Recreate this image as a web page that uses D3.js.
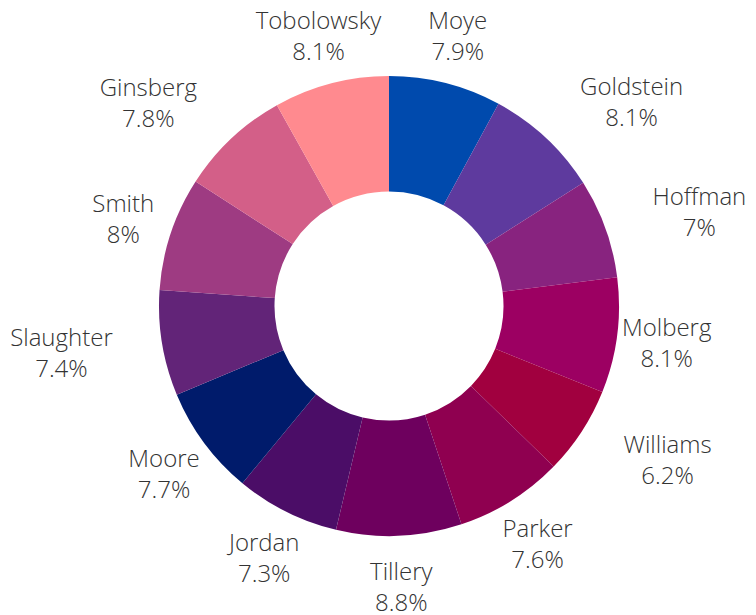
<!DOCTYPE html>
<html>
 <head>
 <title>Donut | D3</title>
    <script src="https://d3js.org/d3.v7.min.js" charset="utf-8"></script>
 <style>
body {
 margin: 0;
 background: white;
 font-family: "Open Sans", sans-serif;
}
.lbl {
 font-size: 24px;
 font-weight: 300;
 fill: #333;
}
</style>
  </head>
  <body>
  <script>
    // data
    var names = ["Moye", "Goldstein", "Hoffman", "Molberg", "Williams", "Parker", "Tillery",
                 "Jordan", "Moore", "Slaughter", "Smith", "Ginsberg", "Tobolowsky"];
    var shares = [7.9, 8.1, 7, 8.1, 6.2, 7.6, 8.8, 7.3, 7.7, 7.4, 8, 7.8, 8.1];
    var colors = ["#004aad", "#5e3a9e", "#88237f", "#9c0062", "#a1003f", "#8f0050", "#6e005e",
                  "#4b0d67", "#001b6b", "#622478", "#9e3b82", "#d35f88", "#ff8a8f"];

    var width = 756;
    var height = 615;
    var cx = 389, cy = 306;
    var outerR = 230, innerR = 114.5, labelR = 280;

    var svg = d3.select( "body" )
     .append( "svg" )
     .attr( "width", width )
     .attr( "height", height );

    var g = svg.append( "g" )
     .attr( "transform", "translate(" + cx + "," + cy + ")" );

    var pie = d3.pie()
     .value( function(d, i) { return shares[i]; } )
     .sort( null );

    var arc = d3.arc()
     .innerRadius( innerR )
     .outerRadius( outerR );

    var labelArc = d3.arc()
     .innerRadius( labelR )
     .outerRadius( labelR );

    var slices = pie( names );

    g.selectAll( "path" )
     .data( slices )
     .enter()
     .append( "path" )
     .attr( "fill", function(d, i) { return colors[i]; } )
     .attr( "d", arc );

    var labels = g.selectAll( "text" )
     .data( slices )
     .enter()
     .append( "text" )
     .attr( "class", "lbl" )
     .attr( "text-anchor", "middle" );

    labels.append( "tspan" )
     .attr( "x", 0 )
     .attr( "dy", 0 )
     .text( function(d) { return d.data; } );
    labels.append( "tspan" )
     .attr( "x", 0 )
     .attr( "dy", 31 )
     .text( function(d, i) { return shares[i] + "%"; } );

    // centre each label block on its point, push it sideways if it hits the ring
    labels.each( function(d) {
      var el = d3.select( this );
      var p = labelArc.centroid( d );
      var b = this.getBBox();
      var x = p[0], y = p[1] - (b.y + b.height / 2);
      var hw = b.width / 2, hh = b.height * 0.47;
      var nx = Math.abs(p[0]) < hw ? 0 : Math.abs(p[0]) - hw;
      var ny = Math.abs(p[1]) < hh ? 0 : Math.abs(p[1]) - hh;
      if ( Math.sqrt(nx * nx + ny * ny) < outerR ) {
        x = p[0] + (p[0] > 0 ? hw : -hw);
      }
      el.attr( "transform", "translate(" + x + "," + y + ")" );
    });
   </script>
 </body>
</html>
